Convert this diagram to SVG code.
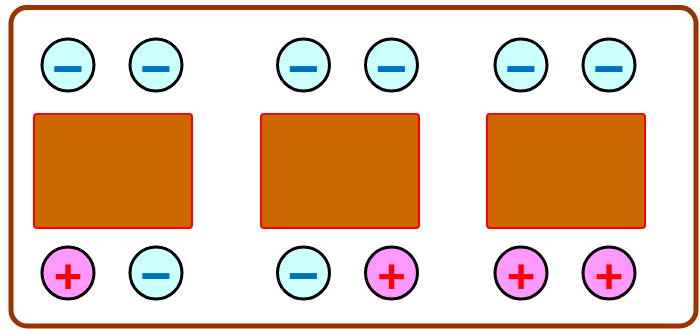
<svg xmlns="http://www.w3.org/2000/svg" width="700" height="329" viewBox="0 0 700 329">
<style>
.frame{fill:#ffffff;stroke:#993300;stroke-width:5}
.plate{fill:#CC6600;stroke:#FF0000;stroke-width:2}
.neg{fill:#CCFFFF;stroke:#000000;stroke-width:3}
.pos{fill:#FF99FF;stroke:#000000;stroke-width:3}
.ns{font-family:"Liberation Sans",Arial,sans-serif;font-weight:bold;font-size:54px;fill:#0070C0;text-anchor:middle}
.ps{font-family:"Liberation Sans",Arial,sans-serif;font-weight:bold;font-size:49px;fill:#FF0000;text-anchor:middle}
</style>
<rect class="frame" x="11" y="7.5" width="685" height="318.5" rx="16"/>
<g id="plate1"><rect class="plate" x="34" y="114" width="158" height="114" rx="3"/></g>
<g id="plate2"><rect class="plate" x="261" y="114" width="158" height="114" rx="3"/></g>
<g id="plate3"><rect class="plate" x="487" y="114" width="158" height="114" rx="3"/></g>
<g id="c1t"><circle class="neg" cx="68" cy="65" r="26"/><text class="ns" x="68" y="86.8">−</text></g>
<g id="c2t"><circle class="neg" cx="156" cy="65" r="26"/><text class="ns" x="156" y="86.8">−</text></g>
<g id="c3t"><circle class="neg" cx="303.5" cy="65" r="26"/><text class="ns" x="303.5" y="86.8">−</text></g>
<g id="c4t"><circle class="neg" cx="391.5" cy="65" r="26"/><text class="ns" x="391.5" y="86.8">−</text></g>
<g id="c5t"><circle class="neg" cx="521" cy="65" r="26"/><text class="ns" x="521" y="86.8">−</text></g>
<g id="c6t"><circle class="neg" cx="609" cy="65" r="26"/><text class="ns" x="609" y="86.8">−</text></g>
<g id="c1b"><circle class="pos" cx="68" cy="273" r="26"/><text class="ps" x="68" y="293.3">+</text></g>
<g id="c2b"><circle class="neg" cx="156" cy="273" r="26"/><text class="ns" x="156" y="294.1">−</text></g>
<g id="c3b"><circle class="neg" cx="303.5" cy="273" r="26"/><text class="ns" x="303.5" y="294.1">−</text></g>
<g id="c4b"><circle class="pos" cx="391.5" cy="273" r="26"/><text class="ps" x="391.5" y="293.3">+</text></g>
<g id="c5b"><circle class="pos" cx="521" cy="273" r="26"/><text class="ps" x="521" y="293.3">+</text></g>
<g id="c6b"><circle class="pos" cx="609" cy="273" r="26"/><text class="ps" x="609" y="293.3">+</text></g>
</svg>
